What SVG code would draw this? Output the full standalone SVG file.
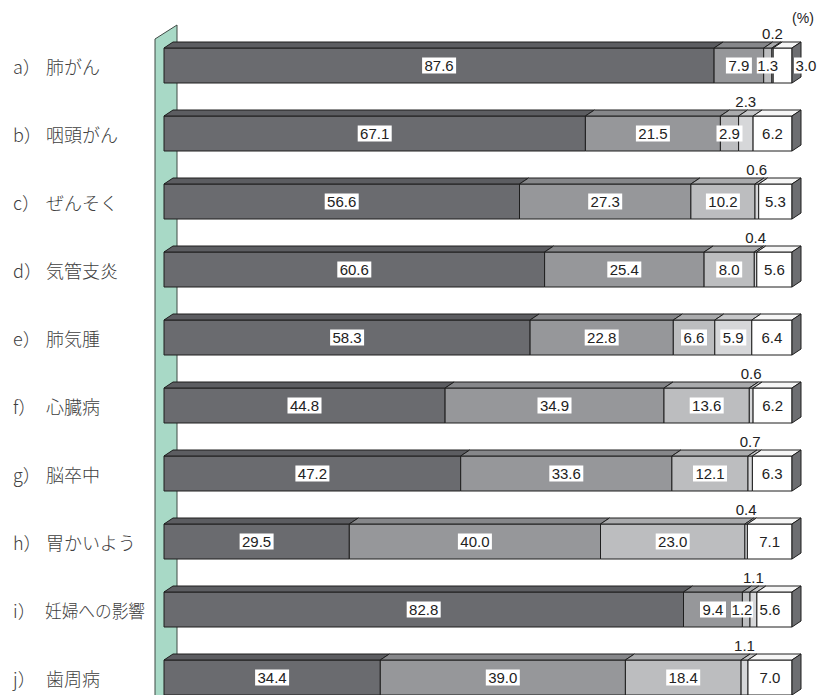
<svg xmlns="http://www.w3.org/2000/svg" width="838" height="695" viewBox="0 0 838 695">
<style>
.s{stroke:#1e1e1e;stroke-width:1;stroke-linejoin:round}
.f1{fill:#6a6b6f}.f2{fill:#96979a}.f3{fill:#bcbdbf}.f4{fill:#d6d7d9}.f5{fill:#ffffff}
.u1{fill:#5c5d61}.u2{fill:#86878a}.u3{fill:#aaabad}.u4{fill:#c6c7c9}.u5{fill:#f6f6f6}
.sd{fill:#6d6e71}
.bx{fill:#ffffff}
.v{font-family:"Liberation Sans",Arial,sans-serif;font-size:15px;fill:#222;text-anchor:middle}
.lb{font-family:"Noto Sans CJK JP","Noto Sans",sans-serif;font-size:18px;font-weight:300;fill:#404040}
</style>
<rect width="838" height="695" fill="#ffffff"/>
<g id="axis-wall">
<polygon points="155,39 177,25 177,696 155,696" fill="#a8d9c6" stroke="#3f4a45" stroke-width="1"/>
</g>
<text class="v" x="803" y="23" style="font-size:14px">(%)</text>

<g id="bar-a" transform="translate(0,48)">
<text class="lb" x="13" y="26">a）</text><text class="lb" x="46" y="26">肺がん</text>
<g class="s">
<rect class="f1" x="164" y="0" width="550.1" height="35"/><polygon class="u1" points="164,0 173,-6 723.1,-6 714.1,0"/>
<rect class="f2" x="714.1" y="0" width="49.6" height="35"/><polygon class="u2" points="714.1,0 723.1,-6 772.7,-6 763.7,0"/>
<rect class="f3" x="763.7" y="0" width="8.2" height="35"/><polygon class="u3" points="763.7,0 772.7,-6 780.9,-6 771.9,0"/>
<rect class="f4" x="771.9" y="0" width="1.3" height="35"/><polygon class="u4" points="771.9,0 780.9,-6 782.2,-6 773.2,0"/>
<rect class="f5" x="773.2" y="0" width="18.8" height="35"/><polygon class="u5" points="773.2,0 782.2,-6 801,-6 792,0"/>
<polygon class="sd" points="792,0 801,-6 801,29 792,35"/>
</g>
<rect class="bx" x="422.1" y="9.5" width="34" height="16"/><text class="v" x="439.1" y="23">87.6</text>
<rect class="bx" x="725.9" y="9.5" width="26" height="16"/><text class="v" x="738.9" y="23">7.9</text>
<rect class="bx" x="756.8" y="9.5" width="22" height="16"/><text class="v" x="767.8" y="23">1.3</text>
<text class="v" x="772.5" y="-9.5">0.2</text>
<rect class="bx" x="794" y="9.5" width="24" height="16"/><text class="v" x="806" y="23">3.0</text>
</g>

<g id="bar-b" transform="translate(0,116)">
<text class="lb" x="13" y="26">b）</text><text class="lb" x="46" y="26">咽頭がん</text>
<g class="s">
<rect class="f1" x="164" y="0" width="421.4" height="35"/><polygon class="u1" points="164,0 173,-6 594.4,-6 585.4,0"/>
<rect class="f2" x="585.4" y="0" width="135" height="35"/><polygon class="u2" points="585.4,0 594.4,-6 729.4,-6 720.4,0"/>
<rect class="f3" x="720.4" y="0" width="18.2" height="35"/><polygon class="u3" points="720.4,0 729.4,-6 747.6,-6 738.6,0"/>
<rect class="f4" x="738.6" y="0" width="14.5" height="35"/><polygon class="u4" points="738.6,0 747.6,-6 762.1,-6 753.1,0"/>
<rect class="f5" x="753.1" y="0" width="38.9" height="35"/><polygon class="u5" points="753.1,0 762.1,-6 801,-6 792,0"/>
<polygon class="sd" points="792,0 801,-6 801,29 792,35"/>
</g>
<rect class="bx" x="357.7" y="9.5" width="34" height="16"/><text class="v" x="374.7" y="23">67.1</text>
<rect class="bx" x="635.9" y="9.5" width="34" height="16"/><text class="v" x="652.9" y="23">21.5</text>
<rect class="bx" x="716.5" y="9.5" width="26" height="16"/><text class="v" x="729.5" y="23">2.9</text>
<text class="v" x="745.8" y="-9.5">2.3</text>
<rect class="bx" x="759.5" y="9.5" width="26" height="16"/><text class="v" x="772.5" y="23">6.2</text>
</g>

<g id="bar-c" transform="translate(0,184)">
<text class="lb" x="13" y="26">c）</text><text class="lb" x="46" y="26">ぜんそく</text>
<g class="s">
<rect class="f1" x="164" y="0" width="355.5" height="35"/><polygon class="u1" points="164,0 173,-6 528.5,-6 519.5,0"/>
<rect class="f2" x="519.5" y="0" width="171.4" height="35"/><polygon class="u2" points="519.5,0 528.5,-6 699.9,-6 690.9,0"/>
<rect class="f3" x="690.9" y="0" width="64.1" height="35"/><polygon class="u3" points="690.9,0 699.9,-6 764,-6 755,0"/>
<rect class="f4" x="755" y="0" width="3.7" height="35"/><polygon class="u4" points="755,0 764,-6 767.7,-6 758.7,0"/>
<rect class="f5" x="758.7" y="0" width="33.3" height="35"/><polygon class="u5" points="758.7,0 767.7,-6 801,-6 792,0"/>
<polygon class="sd" points="792,0 801,-6 801,29 792,35"/>
</g>
<rect class="bx" x="324.7" y="9.5" width="34" height="16"/><text class="v" x="341.7" y="23">56.6</text>
<rect class="bx" x="588.2" y="9.5" width="34" height="16"/><text class="v" x="605.2" y="23">27.3</text>
<rect class="bx" x="705.9" y="9.5" width="34" height="16"/><text class="v" x="722.9" y="23">10.2</text>
<text class="v" x="756.8" y="-9.5">0.6</text>
<rect class="bx" x="762.4" y="9.5" width="26" height="16"/><text class="v" x="775.4" y="23">5.3</text>
</g>

<g id="bar-d" transform="translate(0,252)">
<text class="lb" x="13" y="26">d）</text><text class="lb" x="46" y="26">気管支炎</text>
<g class="s">
<rect class="f1" x="164" y="0" width="380.6" height="35"/><polygon class="u1" points="164,0 173,-6 553.6,-6 544.6,0"/>
<rect class="f2" x="544.6" y="0" width="159.5" height="35"/><polygon class="u2" points="544.6,0 553.6,-6 713.1,-6 704.1,0"/>
<rect class="f3" x="704.1" y="0" width="50.2" height="35"/><polygon class="u3" points="704.1,0 713.1,-6 763.3,-6 754.3,0"/>
<rect class="f4" x="754.3" y="0" width="2.5" height="35"/><polygon class="u4" points="754.3,0 763.3,-6 765.8,-6 756.8,0"/>
<rect class="f5" x="756.8" y="0" width="35.2" height="35"/><polygon class="u5" points="756.8,0 765.8,-6 801,-6 792,0"/>
<polygon class="sd" points="792,0 801,-6 801,29 792,35"/>
</g>
<rect class="bx" x="337.3" y="9.5" width="34" height="16"/><text class="v" x="354.3" y="23">60.6</text>
<rect class="bx" x="607.3" y="9.5" width="34" height="16"/><text class="v" x="624.3" y="23">25.4</text>
<rect class="bx" x="716.2" y="9.5" width="26" height="16"/><text class="v" x="729.2" y="23">8.0</text>
<text class="v" x="755.6" y="-9.5">0.4</text>
<rect class="bx" x="761.4" y="9.5" width="26" height="16"/><text class="v" x="774.4" y="23">5.6</text>
</g>

<g id="bar-e" transform="translate(0,320)">
<text class="lb" x="13" y="26">e）</text><text class="lb" x="46" y="26">肺気腫</text>
<g class="s">
<rect class="f1" x="164" y="0" width="366.1" height="35"/><polygon class="u1" points="164,0 173,-6 539.1,-6 530.1,0"/>
<rect class="f2" x="530.1" y="0" width="143.2" height="35"/><polygon class="u2" points="530.1,0 539.1,-6 682.3,-6 673.3,0"/>
<rect class="f3" x="673.3" y="0" width="41.5" height="35"/><polygon class="u3" points="673.3,0 682.3,-6 723.8,-6 714.8,0"/>
<rect class="f4" x="714.8" y="0" width="37" height="35"/><polygon class="u4" points="714.8,0 723.8,-6 760.8,-6 751.8,0"/>
<rect class="f5" x="751.8" y="0" width="40.2" height="35"/><polygon class="u5" points="751.8,0 760.8,-6 801,-6 792,0"/>
<polygon class="sd" points="792,0 801,-6 801,29 792,35"/>
</g>
<rect class="bx" x="330.1" y="9.5" width="34" height="16"/><text class="v" x="347.1" y="23">58.3</text>
<rect class="bx" x="584.7" y="9.5" width="34" height="16"/><text class="v" x="601.7" y="23">22.8</text>
<rect class="bx" x="681" y="9.5" width="26" height="16"/><text class="v" x="694" y="23">6.6</text>
<rect class="bx" x="720.3" y="9.5" width="26" height="16"/><text class="v" x="733.3" y="23">5.9</text>
<rect class="bx" x="758.9" y="9.5" width="26" height="16"/><text class="v" x="771.9" y="23">6.4</text>
</g>

<g id="bar-f" transform="translate(0,388)">
<text class="lb" x="13" y="26">f）</text><text class="lb" x="46" y="26">心臓病</text>
<g class="s">
<rect class="f1" x="164" y="0" width="281.1" height="35"/><polygon class="u1" points="164,0 173,-6 454.1,-6 445.1,0"/>
<rect class="f2" x="445.1" y="0" width="218.9" height="35"/><polygon class="u2" points="445.1,0 454.1,-6 673,-6 664,0"/>
<rect class="f3" x="664" y="0" width="85.3" height="35"/><polygon class="u3" points="664,0 673,-6 758.3,-6 749.3,0"/>
<rect class="f4" x="749.3" y="0" width="3.8" height="35"/><polygon class="u4" points="749.3,0 758.3,-6 762.1,-6 753.1,0"/>
<rect class="f5" x="753.1" y="0" width="38.9" height="35"/><polygon class="u5" points="753.1,0 762.1,-6 801,-6 792,0"/>
<polygon class="sd" points="792,0 801,-6 801,29 792,35"/>
</g>
<rect class="bx" x="287.5" y="9.5" width="34" height="16"/><text class="v" x="304.5" y="23">44.8</text>
<rect class="bx" x="537.5" y="9.5" width="34" height="16"/><text class="v" x="554.5" y="23">34.9</text>
<rect class="bx" x="689.7" y="9.5" width="34" height="16"/><text class="v" x="706.7" y="23">13.6</text>
<text class="v" x="751.2" y="-9.5">0.6</text>
<rect class="bx" x="759.6" y="9.5" width="26" height="16"/><text class="v" x="772.6" y="23">6.2</text>
</g>

<g id="bar-g" transform="translate(0,456)">
<text class="lb" x="13" y="26">g）</text><text class="lb" x="46" y="26">脳卒中</text>
<g class="s">
<rect class="f1" x="164" y="0" width="296.7" height="35"/><polygon class="u1" points="164,0 173,-6 469.7,-6 460.7,0"/>
<rect class="f2" x="460.7" y="0" width="211.2" height="35"/><polygon class="u2" points="460.7,0 469.7,-6 680.9,-6 671.9,0"/>
<rect class="f3" x="671.9" y="0" width="76.1" height="35"/><polygon class="u3" points="671.9,0 680.9,-6 757,-6 748,0"/>
<rect class="f4" x="748" y="0" width="4.4" height="35"/><polygon class="u4" points="748,0 757,-6 761.4,-6 752.4,0"/>
<rect class="f5" x="752.4" y="0" width="39.6" height="35"/><polygon class="u5" points="752.4,0 761.4,-6 801,-6 792,0"/>
<polygon class="sd" points="792,0 801,-6 801,29 792,35"/>
</g>
<rect class="bx" x="295.4" y="9.5" width="34" height="16"/><text class="v" x="312.4" y="23">47.2</text>
<rect class="bx" x="549.3" y="9.5" width="34" height="16"/><text class="v" x="566.3" y="23">33.6</text>
<rect class="bx" x="693" y="9.5" width="34" height="16"/><text class="v" x="710" y="23">12.1</text>
<text class="v" x="750.2" y="-9.5">0.7</text>
<rect class="bx" x="759.2" y="9.5" width="26" height="16"/><text class="v" x="772.2" y="23">6.3</text>
</g>

<g id="bar-h" transform="translate(0,524)">
<text class="lb" x="13" y="26">h）</text><text class="lb" x="46" y="26">胃かいよう</text>
<g class="s">
<rect class="f1" x="164" y="0" width="185.3" height="35"/><polygon class="u1" points="164,0 173,-6 358.3,-6 349.3,0"/>
<rect class="f2" x="349.3" y="0" width="251.2" height="35"/><polygon class="u2" points="349.3,0 358.3,-6 609.5,-6 600.5,0"/>
<rect class="f3" x="600.5" y="0" width="144.4" height="35"/><polygon class="u3" points="600.5,0 609.5,-6 753.9,-6 744.9,0"/>
<rect class="f4" x="744.9" y="0" width="2.5" height="35"/><polygon class="u4" points="744.9,0 753.9,-6 756.4,-6 747.4,0"/>
<rect class="f5" x="747.4" y="0" width="44.6" height="35"/><polygon class="u5" points="747.4,0 756.4,-6 801,-6 792,0"/>
<polygon class="sd" points="792,0 801,-6 801,29 792,35"/>
</g>
<rect class="bx" x="239.6" y="9.5" width="34" height="16"/><text class="v" x="256.6" y="23">29.5</text>
<rect class="bx" x="457.9" y="9.5" width="34" height="16"/><text class="v" x="474.9" y="23">40.0</text>
<rect class="bx" x="655.7" y="9.5" width="34" height="16"/><text class="v" x="672.7" y="23">23.0</text>
<text class="v" x="746.2" y="-9.5">0.4</text>
<rect class="bx" x="756.7" y="9.5" width="26" height="16"/><text class="v" x="769.7" y="23">7.1</text>
</g>

<g id="bar-i" transform="translate(0,592)">
<text class="lb" x="13" y="26">i）</text><text class="lb" x="45" y="26" textLength="100" lengthAdjust="spacingAndGlyphs">妊婦への影響</text>
<g class="s">
<rect class="f1" x="164" y="0" width="519.5" height="35"/><polygon class="u1" points="164,0 173,-6 692.5,-6 683.5,0"/>
<rect class="f2" x="683.5" y="0" width="58.9" height="35"/><polygon class="u2" points="683.5,0 692.5,-6 751.4,-6 742.4,0"/>
<rect class="f3" x="742.4" y="0" width="7.6" height="35"/><polygon class="u3" points="742.4,0 751.4,-6 759,-6 750,0"/>
<rect class="f4" x="750" y="0" width="6.9" height="35"/><polygon class="u4" points="750,0 759,-6 765.9,-6 756.9,0"/>
<rect class="f5" x="756.9" y="0" width="35.1" height="35"/><polygon class="u5" points="756.9,0 765.9,-6 801,-6 792,0"/>
<polygon class="sd" points="792,0 801,-6 801,29 792,35"/>
</g>
<rect class="bx" x="406.7" y="9.5" width="34" height="16"/><text class="v" x="423.7" y="23">82.8</text>
<rect class="bx" x="700" y="9.5" width="26" height="16"/><text class="v" x="713" y="23">9.4</text>
<rect class="bx" x="731" y="9.5" width="22" height="16"/><text class="v" x="742" y="23">1.2</text>
<text class="v" x="753.4" y="-9.5">1.1</text>
<text class="v" x="770" y="23">5.6</text>
</g>

<g id="bar-j" transform="translate(0,660)">
<text class="lb" x="13" y="26">j）</text><text class="lb" x="46" y="26">歯周病</text>
<g class="s">
<rect class="f1" x="164" y="0" width="216.3" height="35"/><polygon class="u1" points="164,0 173,-6 389.3,-6 380.3,0"/>
<rect class="f2" x="380.3" y="0" width="245.1" height="35"/><polygon class="u2" points="380.3,0 389.3,-6 634.4,-6 625.4,0"/>
<rect class="f3" x="625.4" y="0" width="115.7" height="35"/><polygon class="u3" points="625.4,0 634.4,-6 750.1,-6 741.1,0"/>
<rect class="f4" x="741.1" y="0" width="6.9" height="35"/><polygon class="u4" points="741.1,0 750.1,-6 757,-6 748,0"/>
<rect class="f5" x="748" y="0" width="44" height="35"/><polygon class="u5" points="748,0 757,-6 801,-6 792,0"/>
<polygon class="sd" points="792,0 801,-6 801,29 792,35"/>
</g>
<rect class="bx" x="255.1" y="9.5" width="34" height="16"/><text class="v" x="272.1" y="23">34.4</text>
<rect class="bx" x="485.8" y="9.5" width="34" height="16"/><text class="v" x="502.8" y="23">39.0</text>
<rect class="bx" x="666.2" y="9.5" width="34" height="16"/><text class="v" x="683.2" y="23">18.4</text>
<text class="v" x="744.5" y="-9.5">1.1</text>
<rect class="bx" x="757" y="9.5" width="26" height="16"/><text class="v" x="770" y="23">7.0</text>
</g>
</svg>
